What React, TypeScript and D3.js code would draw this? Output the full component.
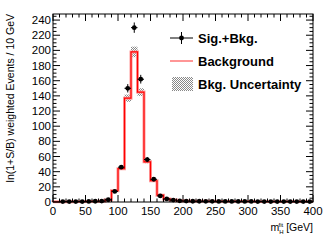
import * as d3 from "d3";
import React, { useRef, useEffect } from "react";

// bin lower edges, 10 GeV wide
const binEdges = d3.range(0, 400, 10);
// ln(1+S/B) weighted background
const background = [
  0.3, 0.4, 0.4, 0.5, 0.5, 0.7, 0.8, 1.0, 2.5, 15, 44, 137, 198, 145, 53, 28, 9, 4, 2.5, 1.5,
  1.2, 1.0, 1.0, 0.9, 0.9, 0.8, 0.8, 0.8, 0.7, 0.7, 0.7, 0.6, 0.6, 0.6, 0.6, 0.5, 0.5, 0.5, 0.5, 0.5,
];
// Sig.+Bkg.
const sigBkg = [
  null, 0.5, 0.5, 0.5, 0.6, 0.8, 1.0, 1.2, 3, 14, 46, 150, 230, 162, 56, 30, 8, 4, 2.5, 1.5,
  1.2, 1.0, 1.0, 0.9, 0.9, 0.8, 0.8, 0.8, 0.7, 0.7, 0.7, 0.6, 0.6, 0.6, 0.6, 0.5, 0.5, 0.5, 0.5, 0.5,
];
const xTicks = [0, 50, 100, 150, 200, 250, 300, 350, 400];
const yTicks = [0, 20, 40, 60, 80, 100, 120, 140, 160, 180, 200, 220, 240];
const legendItems = ["Sig.+Bkg.", "Background", "Bkg. Uncertainty"];

const App = () => {
  const svgRef = useRef(null);
  const w = 332;
  const h = 240;
  const left = 53, right = 313, top = 14, bottom = 202;

  useEffect(() => {
    const svg = d3.select(svgRef.current);
    svg.selectAll("*").remove();

    const x = d3.scaleLinear().domain([0, 400]).range([left, right]);
    const y = d3.scaleLinear().domain([0, 248]).range([bottom, top]);

    const defs = svg.append("defs");
    const pat = defs.append("pattern")
      .attr("id", "hatch")
      .attr("width", 2).attr("height", 2)
      .attr("patternUnits", "userSpaceOnUse");
    pat.append("rect").attr("width", 2).attr("height", 2).attr("fill", "#fff");
    pat.append("rect").attr("width", 1).attr("height", 1).attr("fill", "#888");
    pat.append("rect").attr("x", 1).attr("y", 1).attr("width", 1).attr("height", 1).attr("fill", "#888");

    const font = "'Liberation Sans', Arial, sans-serif";

    // uncertainty boxes
    svg.append("g").selectAll("rect")
      .data(binEdges)
      .enter().append("rect")
      .attr("x", (d) => x(d))
      .attr("width", x(10) - x(0))
      .attr("y", (d, i) => y(background[i] * 1.035))
      .attr("height", (d, i) => y(background[i] * 0.965) - y(background[i] * 1.035))
      .attr("fill", "url(#hatch)");

    // background step line
    const steps: [number, number][] = [[0, 0]];
    binEdges.forEach((e, i) => {
      steps.push([e, background[i]]);
      steps.push([e + 10, background[i]]);
    });
    const line = d3.line<[number, number]>().x((d) => x(d[0])).y((d) => y(d[1]));
    svg.append("path").datum(steps).attr("d", line)
      .attr("fill", "none").attr("stroke", "#ff9a9a").attr("stroke-width", 3);
    svg.append("path").datum(steps).attr("d", line)
      .attr("fill", "none").attr("stroke", "#f00").attr("stroke-width", 1.2);

    // data points
    const pts = binEdges.map((e, i) => ({ c: e + 5, v: sigBkg[i] })).filter((d) => d.v !== null);
    const g = svg.append("g");
    pts.forEach((d) => {
      const err = Math.sqrt(d.v) * 0.45;
      g.append("line").attr("x1", x(d.c - 5)).attr("x2", x(d.c + 5))
        .attr("y1", y(d.v)).attr("y2", y(d.v)).attr("stroke", "#000").attr("stroke-width", 1);
      if (err * 0.758 > 2.5) {
        g.append("line").attr("x1", x(d.c)).attr("x2", x(d.c))
          .attr("y1", y(d.v + err)).attr("y2", y(d.v - err)).attr("stroke", "#000").attr("stroke-width", 1);
      }
      g.append("circle").attr("cx", x(d.c)).attr("cy", y(d.v)).attr("r", 2.4).attr("fill", "#000");
    });

    // frame
    svg.append("rect").attr("x", left).attr("y", top)
      .attr("width", right - left).attr("height", bottom - top)
      .attr("fill", "none").attr("stroke", "#000").attr("stroke-width", 1);

    // ticks
    const tk = svg.append("g").attr("stroke", "#000").attr("stroke-width", 1);
    d3.range(0, 401, 10).forEach((v) => {
      const len = v % 50 === 0 ? 7 : 3.5;
      tk.append("line").attr("x1", x(v)).attr("x2", x(v)).attr("y1", bottom).attr("y2", bottom - len);
      tk.append("line").attr("x1", x(v)).attr("x2", x(v)).attr("y1", top).attr("y2", top + len);
    });
    d3.range(0, 249, 5).forEach((v) => {
      const len = v % 20 === 0 ? 7 : 3.5;
      tk.append("line").attr("x1", left).attr("x2", left + len).attr("y1", y(v)).attr("y2", y(v));
      tk.append("line").attr("x1", right).attr("x2", right - len).attr("y1", y(v)).attr("y2", y(v));
    });

    // tick labels
    svg.append("g").selectAll("text").data(xTicks).enter().append("text")
      .attr("x", (d) => x(d)).attr("y", bottom + 13)
      .attr("text-anchor", "middle").attr("font-family", font).attr("font-size", 11.5)
      .text((d) => d);
    svg.append("g").selectAll("text").data(yTicks).enter().append("text")
      .attr("x", left - 2).attr("y", (d) => y(d) + 4)
      .attr("text-anchor", "end").attr("font-family", font).attr("font-size", 11.5)
      .text((d) => d);

    // axis titles
    const xt = svg.append("text").attr("x", right).attr("y", 231)
      .attr("text-anchor", "end").attr("font-family", font).attr("font-size", 10.5);
    xt.append("tspan").text("m");
    xt.append("tspan").attr("font-size", 6).attr("dy", 3).text("H");
    xt.append("tspan").attr("font-size", 6).attr("dx", -5).attr("dy", -7).text("fit");
    xt.append("tspan").attr("dy", 4).text(" [GeV]");

    svg.append("text")
      .attr("transform", `translate(14,${top}) rotate(-90)`)
      .attr("text-anchor", "end").attr("font-family", font).attr("font-size", 10.5)
      .text("ln(1+S/B) weighted Events / 10 GeV");

    // legend
    const lg = svg.append("g");
    legendItems.forEach((t, i) => {
      const ly = 38 + i * 23;
      if (i === 0) {
        lg.append("line").attr("x1", 170).attr("x2", 193).attr("y1", ly).attr("y2", ly).attr("stroke", "#000");
        lg.append("line").attr("x1", 181.5).attr("x2", 181.5).attr("y1", ly - 6).attr("y2", ly + 6).attr("stroke", "#000");
        lg.append("circle").attr("cx", 181.5).attr("cy", ly).attr("r", 2.4).attr("fill", "#000");
      } else if (i === 1) {
        lg.append("line").attr("x1", 170).attr("x2", 193).attr("y1", ly).attr("y2", ly)
          .attr("stroke", "#ff5050").attr("stroke-width", 1.2);
      } else {
        lg.append("rect").attr("x", 172).attr("y", ly - 7).attr("width", 21).attr("height", 14)
          .attr("fill", "url(#hatch)");
      }
      lg.append("text").attr("x", 198).attr("y", ly + 5)
        .attr("font-family", font).attr("font-weight", "bold").attr("font-size", 13)
        .text(t);
    });
  });

  return (
    <svg ref={svgRef} width={w} height={h} style={{ position: "absolute", left: 0, top: 0 }} />
  );
};

export default App;
